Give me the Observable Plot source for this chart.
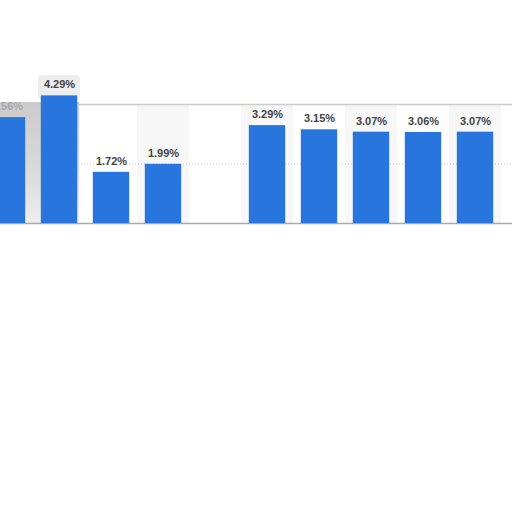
<!DOCTYPE html>
<html><head><meta charset="utf-8">
<script src="https://cdn.jsdelivr.net/npm/d3@7"></script>
<script src="https://cdn.jsdelivr.net/npm/@observablehq/plot@0.6"></script>
<style>html,body{margin:0;padding:0;background:#fff} #chart svg{display:block}</style>
</head><body><div id="chart"></div>
<script>
const categories = ["A","B","C","D","E","F","G","H","I","J"];
const values = [3.56, 4.29, 1.72, 1.99, null, 3.29, 3.15, 3.07, 3.06, 3.07];
const gridTicks = [2];
const frameTicks = [4];
const shadedSlot = "A";
const highlighted = "B";

const data = categories.map((c, i) => ({
  cat: c,
  value: values[i],
  label: values[i] == null ? "" : d3.format(".2f")(values[i]) + "%",
  faded: c === shadedSlot
}));
const bandCats = categories.filter((c, i) => i % 2 === 1 && c !== highlighted);
const yTop = frameTicks[0];

function shade(index, scales) {
  const x = scales.x, y = scales.y;
  const bw = x.bandwidth();
  const g = d3.create("svg:g");
  const lg = g.append("defs").append("linearGradient")
    .attr("id", "shadeGrad").attr("x1", 0).attr("y1", 0).attr("x2", 0).attr("y2", 1);
  lg.append("stop").attr("offset", "0%").attr("stop-color", "#cbcbcb");
  lg.append("stop").attr("offset", "55%").attr("stop-color", "#d9d9d9");
  lg.append("stop").attr("offset", "100%").attr("stop-color", "#eeeeee");
  const x0 = x(shadedSlot);
  const x1 = x(highlighted) + bw * 0.85 + 2;
  g.append("rect")
    .attr("x", x0).attr("y", y(yTop) - 2)
    .attr("width", x1 - x0).attr("height", y(0) - y(yTop) + 2)
    .attr("fill", "url(#shadeGrad)");
  return g.node();
}

function labelBox(index, scales) {
  const x = scales.x, y = scales.y;
  const bw = x.bandwidth();
  const v = values[categories.indexOf(highlighted)];
  const cx = x(highlighted) + bw / 2;
  const top = y(v);
  const g = d3.create("svg:g");
  g.append("rect")
    .attr("x", cx - 21).attr("y", top - 20)
    .attr("width", 42).attr("height", 24)
    .attr("rx", 4)
    .attr("fill", "#ededed");
  return g.node();
}

const chart = Plot.plot({
  width: 512,
  height: 512,
  marginLeft: 0,
  marginRight: 0,
  marginTop: 104,
  marginBottom: 289,
  style: {fontFamily: "'Liberation Sans', Arial, sans-serif", background: "#fff"},
  x: {type: "band", domain: categories, range: [-23, 504], padding: 0, axis: null},
  y: {domain: [0, 4], range: [223, 104], axis: null},
  marks: [
    Plot.barY(bandCats, {x: d => d, y1: 0, y2: yTop, fill: "#f7f7f7"}),
    Plot.ruleY(gridTicks, {stroke: "#c4c4c4", strokeDasharray: "1,2"}),
    Plot.ruleY(frameTicks, {stroke: "#cccccc", strokeWidth: 1.5}),
    shade,
    Plot.ruleY([0], {stroke: "#a9a9a9", strokeWidth: 1.5}),
    labelBox,
    Plot.barY(data.filter(d => d.value != null), {
      x: "cat", y: "value", fill: "#2876dd", insetLeft: 7.8, insetRight: 7.8
    }),
    Plot.text(data.filter(d => d.value != null), {
      x: "cat", y: "value", text: "label", dy: -11,
      fontSize: 11, fontWeight: "bold",
      fill: d => d.faded ? "#a8a8a8" : "#444444"
    })
  ]
});
document.getElementById("chart").appendChild(chart);
</script>
</body></html>
